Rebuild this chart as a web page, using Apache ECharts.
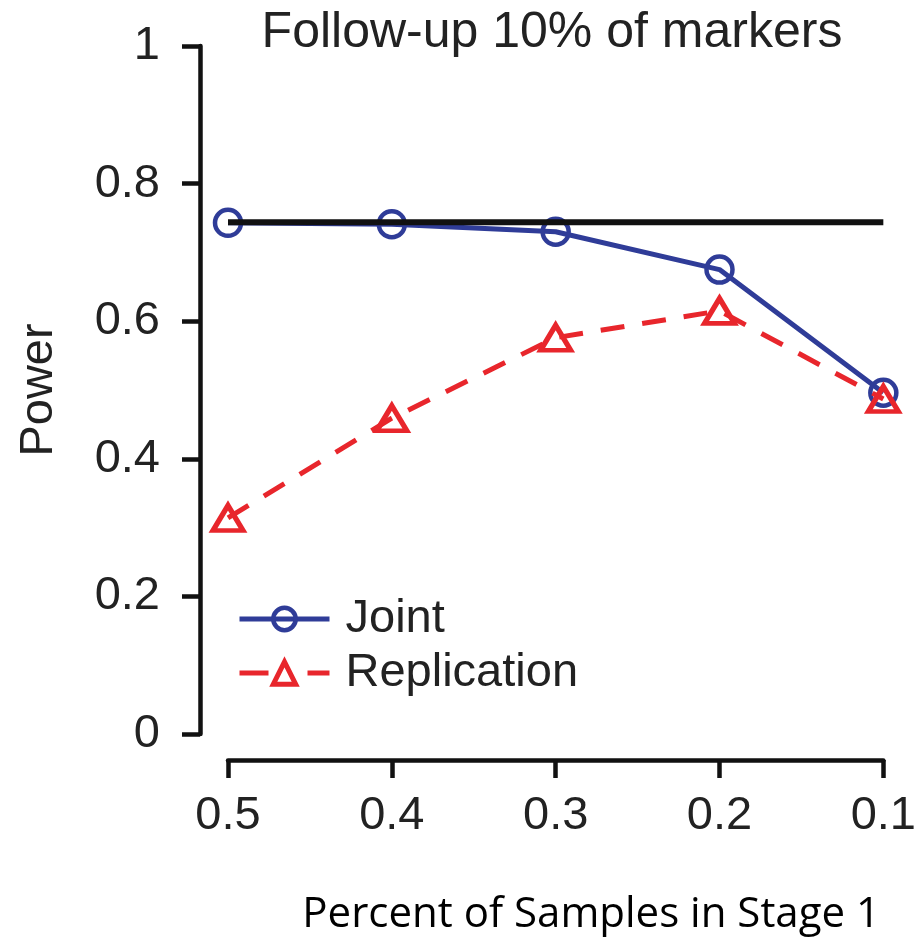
<!DOCTYPE html>
<html>
<head>
<meta charset="utf-8">
<script src="https://cdn.jsdelivr.net/npm/echarts@6/dist/echarts.min.js"></script>
<style>
html,body{margin:0;padding:0;background:#fff;}
#chart{width:919px;height:943px;}
</style>
</head>
<body>
<div id="chart"></div>
<script>
const categories = ['0.5', '0.4', '0.3', '0.2', '0.1'];
const jointPower = [0.743, 0.741, 0.730, 0.675, 0.496];
const replicationPower = [0.314, 0.459, 0.576, 0.615, 0.487];
const singleStagePower = [0.744, 0.744, 0.744, 0.744, 0.744];
const yTickLabels = ['0', '0.2', '0.4', '0.6', '0.8', '1'];

const FONT = '"Liberation Sans", Arial, Helvetica, sans-serif';
const BLUE = '#2f3c98';
const RED = '#e8262c';
const chart = echarts.init(document.getElementById('chart'));
chart.setOption({
  animation: false,
  backgroundColor: '#ffffff',
  title: [
    {
      text: 'Follow-up 10% of markers',
      left: 552,
      textAlign: 'center',
      top: 8,
      padding: 0,
      textStyle: { fontFamily: FONT, fontSize: 50, fontWeight: 'normal', color: '#222' }
    },
    {
      text: 'Percent of Samples in Stage 1',
      left: 880,
      textAlign: 'right',
      top: 894,
      padding: 0,
      textStyle: { fontFamily: '"Open Sans", "Noto Sans", sans-serif', fontSize: 42, fontWeight: 'normal', color: '#000' }
    }
  ],
  grid: { left: 228, right: 31, top: 46, bottom: 209 },
  legend: {
    left: 237,
    top: 594,
    padding: 0,
    orient: 'vertical',
    itemWidth: 90,
    itemHeight: 28,
    itemGap: 4,
    data: [
      { name: 'Joint', itemStyle: { borderWidth: 4.5, borderColor: BLUE, color: 'rgba(255,255,255,0)' }, lineStyle: { width: 5, color: BLUE } },
      { name: 'Replication', itemStyle: { borderWidth: 5, borderColor: RED, color: 'rgba(255,255,255,0)' }, lineStyle: { width: 5, color: RED, type: [29, 39] } }
    ],
    textStyle: { fontFamily: FONT, fontSize: 47, color: '#222', lineHeight: 50, padding: [0, 0, 0, 11] }
  },
  xAxis: {
    type: 'category',
    data: categories,
    boundaryGap: false,
    offset: 26,
    axisLine: { onZero: false, lineStyle: { color: '#111', width: 4.5 } },
    axisTick: { length: 18, lineStyle: { color: '#111', width: 4.5 } },
    axisLabel: { fontFamily: FONT, fontSize: 47, color: '#222', margin: 33 }
  },
  yAxis: {
    type: 'value',
    min: 0,
    max: 1,
    interval: 0.2,
    offset: 28,
    splitLine: { show: false },
    axisLine: { show: true, lineStyle: { color: '#111', width: 4.5 } },
    axisTick: { show: true, length: 18, lineStyle: { color: '#111', width: 4.5 } },
    axisLabel: {
      fontFamily: FONT, fontSize: 47, color: '#222', margin: 40,
      formatter: function (v) { return yTickLabels[Math.round(v * 5)]; }
    },
    name: 'Power',
    nameLocation: 'middle',
    nameGap: 137,
    nameRotate: 90,
    nameTextStyle: { fontFamily: FONT, fontSize: 47, color: '#222' }
  },
  series: [
    {
      name: 'Joint',
      type: 'line',
      data: jointPower,
      symbol: 'circle',
      symbolSize: 26,
      itemStyle: { color: 'rgba(255,255,255,0)', borderColor: BLUE, borderWidth: 4.5 },
      lineStyle: { color: BLUE, width: 5 },
      z: 2
    },
    {
      name: 'Replication',
      type: 'line',
      data: replicationPower,
      symbol: 'triangle',
      symbolSize: [30, 25],
      itemStyle: { color: 'rgba(255,255,255,0)', borderColor: RED, borderWidth: 5 },
      lineStyle: { color: RED, width: 5, type: [24, 18] },
      z: 3
    },
    {
      name: 'Single stage',
      type: 'line',
      data: singleStagePower,
      symbol: 'none',
      lineStyle: { color: '#111', width: 6 },
      z: 4
    }
  ]
});
</script>
</body>
</html>
